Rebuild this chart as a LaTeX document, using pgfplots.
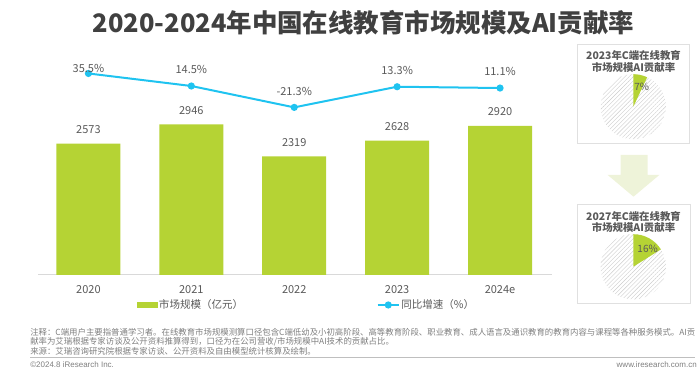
\documentclass[border=0pt]{standalone}
\usepackage{fontspec}
\setmainfont{Noto Sans CJK SC}
\newfontfamily\latinfont{Liberation Sans}
\usepackage{pgfplots}
\usepackage{pgfplotstable}
\pgfplotsset{compat=1.18}
\usetikzlibrary{patterns.meta}
\definecolor{barg}{HTML}{B5D334}
\definecolor{linec}{HTML}{1FC3F0}
\definecolor{txt}{HTML}{595959}
\definecolor{ttl}{HTML}{404040}
\definecolor{note}{HTML}{7F7F7F}
\definecolor{arrowc}{HTML}{EEF3D9}

\pgfplotstableread{
x y
0 2573
1 2946
2 2319
3 2628
4 2920
}\barData
\pgfplotstableread{
x y dy
0 35.5 0
1 14.5 8.25
2 -21.3 8.25
3 13.3 8.25
4 11.1 8.25
}\lineData
\def\pieA{7}
\def\pieB{16}

\begin{document}
\begin{tikzpicture}[x=0.75pt,y=0.75pt]
\useasboundingbox (0,0) rectangle (700,374);
% title
\node[font=\fontsize{19.1}{22}\selectfont\bfseries, text=ttl, inner sep=0] at (363.5,351) {2020-2024年中国在线教育市场规模及AI贡献率};

% bars
\begin{axis}[
  at={(28.5pt,74.25pt)}, anchor=south west,
  width=385.5pt, height=161.25pt, scale only axis,
  xmin=-0.49, xmax=4.505, ymin=0, ymax=4207,
  axis x line=bottom, axis y line=none,
  x axis line style={draw=black!15, line width=0.75pt, -},
  xtick={0,1,2,3,4}, xticklabels={2020,2021,2022,2023,2024e},
  major tick length=0pt,
  xticklabel style={font=\fontsize{8.25}{10}\selectfont, text=txt, inner sep=0pt, anchor=north, yshift=-7.65pt},
  ytick=\empty,
  clip=false,
  /pgf/number format/assume math mode=true,
]
\addplot[ybar, bar width=48pt, fill=barg, draw=none,
  nodes near coords, point meta=y,
  every node near coord/.append style={font=\fontsize{8.25}{10}\selectfont, text=txt, inner sep=0pt, anchor=south, yshift=7.2pt},
  /pgf/number format/.cd, fixed, 1000 sep={}]
  table[x=x,y=y] {\barData};
\end{axis}

% growth line
\begin{axis}[
  at={(28.5pt,74.25pt)}, anchor=south west,
  width=385.5pt, height=161.25pt, scale only axis,
  xmin=-0.49, xmax=4.505, ymin=-302, ymax=58.06,
  hide axis, clip=false,
  /pgf/number format/assume math mode=true,
  legend columns=2,
  legend style={at={(0.522,-0.1395)}, anchor=center, draw=none, fill=none,
    font=\fontsize{7.9}{9}\selectfont, text=txt,
    /tikz/every even column/.append style={column sep=99pt},
    inner sep=0pt, nodes={inner sep=1pt}},
]
\addlegendimage{legend image code/.code={\fill[barg] (0pt,-1.875pt) rectangle (15pt,1.875pt);}}
\addlegendentry{市场规模（亿元）}
\addplot[color=linec, line width=1.5pt, mark=*, mark size=1.9pt, mark options={fill=linec, draw=linec},
  point meta=y,
  visualization depends on={\thisrow{dy} \as \dy},
  nodes near coords={\pgfmathprintnumber[fixed,precision=1,fixed zerofill]{\pgfplotspointmeta}\%},
  every node near coord/.append style={font=\fontsize{8.25}{10}\selectfont, text=txt, inner sep=0pt, anchor=south, yshift=\dy pt},
  legend image code/.code={\draw[linec, line width=1.5pt] (0pt,0pt) -- (16pt,0pt); \fill[linec] (8pt,0pt) circle (1.9pt);}]
  table[x=x,y=y] {\lineData};
\addlegendentry{同比增速（\%）}
\end{axis}

% notes
\node[anchor=west, inner sep=0, font=\fontsize{6.3}{7}\selectfont, text=note] at (30,41.7) {注释：C端用户主要指普通学习者。在线教育市场规模测算口径包含C端低幼及小初高阶段、高等教育阶段、职业教育、成人语言及通识教育的教育内容与课程等各种服务模式。AI贡};
\node[anchor=west, inner sep=0, font=\fontsize{6.3}{7}\selectfont, text=note] at (30,32.3) {献率为艾瑞根据专家访谈及公开资料推算得到，口径为在公司营收/市场规模中AI技术的贡献占比。};
\node[anchor=west, inner sep=0, font=\fontsize{6.3}{7}\selectfont, text=note] at (30,22.3) {来源：艾瑞咨询研究院根据专家访谈、公开资料及自由模型统计核算及绘制。};
\draw[black!25, line width=0.5pt] (30,16.7) -- (695,16.7);
\node[anchor=west, inner sep=0, font=\latinfont\fontsize{6}{7}\selectfont, text=note] at (30,9.7) {©2024.8 iResearch Inc.};
\node[anchor=east, inner sep=0, font=\latinfont\fontsize{6}{7}\selectfont, text=note] at (697,9.7) {www.iresearch.com.cn};

% right panel
\draw[black!12, line width=0.75pt] (577.3,329) rectangle (689.3,230.7);
\node[font=\bfseries\fontsize{7.8}{8.7}\selectfont, text=txt, align=center, inner sep=0] at (633.5,312.5) {2023年C端在线教育\\市场规模AI贡献率};
\begin{axis}[at={(474.975pt,200.475pt)}, anchor=center, width=48.75pt, height=48.75pt, scale only axis,
  hide axis, xmin=-1, xmax=1, ymin=-1, ymax=1, clip=false]
\fill[pattern={Lines[angle=45,distance=2.2pt,line width=0.3pt]}, pattern color=black!20] (axis cs:0,0) circle[radius=24.4pt];
\fill[barg] (axis cs:0,0) -- (axis cs:0,1) arc[start angle=90, end angle={90-\pieA*3.6}, radius=24.4pt] -- cycle;
\node[font=\fontsize{7.5}{9}\selectfont, text=txt, inner sep=0] at (axis cs:0.26,0.6) {\pieA\%};
\end{axis}

\fill[arrowc] (620.7,219) -- (647.7,219) -- (647.7,199) -- (659.3,199) -- (633.5,177.3) -- (607.7,199) -- (620.7,199) -- cycle;

\draw[black!12, line width=0.75pt] (577.3,169.7) rectangle (690,70.7);
\node[font=\bfseries\fontsize{7.8}{8.7}\selectfont, text=txt, align=center, inner sep=0] at (633.5,152.15) {2027年C端在线教育\\市场规模AI贡献率};
\begin{axis}[at={(474.975pt,80.475pt)}, anchor=center, width=48.75pt, height=48.75pt, scale only axis,
  hide axis, xmin=-1, xmax=1, ymin=-1, ymax=1, clip=false]
\fill[pattern={Lines[angle=45,distance=2.2pt,line width=0.3pt]}, pattern color=black!20] (axis cs:0,0) circle[radius=24.5pt];
\fill[barg] (axis cs:0,0) -- (axis cs:0,1) arc[start angle=90, end angle={90-\pieB*3.6}, radius=24.5pt] -- cycle;
\node[font=\fontsize{7.5}{9}\selectfont, text=txt, inner sep=0] at (axis cs:0.44,0.535) {\pieB\%};
\end{axis}
\end{tikzpicture}
\end{document}
